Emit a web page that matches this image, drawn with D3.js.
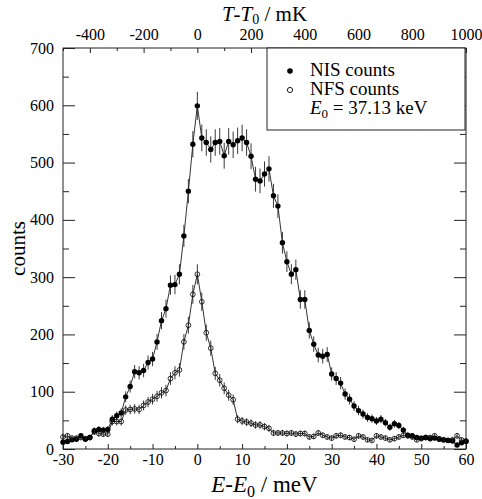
<!DOCTYPE html>
<html>
<head>
<meta charset="utf-8">
<script src="https://cdn.jsdelivr.net/npm/d3@7"></script>
<style>
  body { margin: 0; background: #fff; }
  svg text { font-family: "Liberation Serif", "Times New Roman", serif; fill: #000; }
</style>
</head>
<body>
<div id="chart"></div>
<script>
// energy offset E-E0 in meV (one channel per meV)
var energy = [-30,-29,-28,-27,-26,-25,-24,-23,-22,-21,-20,-19,-18,-17,-16,-15,-14,-13,-12,-11,
  -10,-9,-8,-7,-6,-5,-4,-3,-2,-1,0,1,2,3,4,5,6,7,8,9,10,11,12,13,14,15,16,17,18,19,
  20,21,22,23,24,25,26,27,28,29,30,31,32,33,34,35,36,37,38,39,40,41,42,43,44,45,46,47,48,49,
  50,51,52,53,54,55,56,57,58,59,60];

var nisCounts = [12,13,16,17,23,17,20,32,34,33,34,52,58,63,91,109,135,133,137,151,
  157,187,224,245,286,287,305,372,450,532,599,543,535,523,535,537,512,537,531,538,
  543,535,511,471,468,480,489,442,424,360,327,305,313,261,261,207,183,164,162,165,
  131,123,115,96,87,75,67,61,55,53,49,52,46,38,44,41,33,24,23,20,
  19,20,18,19,17,16,15,14,7,11,13];

var nfsCounts = [21,23,19,19,20,18,20,30,27,26,26,48,48,48,68,69,70,69,76,82,
  87,92,98,102,123,133,138,187,216,270,305,257,203,176,132,120,106,94,86,52,
  49,47,45,42,42,39,36,28,28,28,27,28,26,27,27,21,22,28,24,21,
  19,23,24,21,20,17,23,21,16,15,23,21,19,16,18,21,24,23,21,16,
  18,20,20,23,18,16,15,16,23,16,14];

var bottomMajor = [-30,-20,-10,0,10,20,30,40,50,60];
var bottomMinor = [-25,-15,-5,5,15,25,35,45,55];
var topMajor = [-400,-200,0,200,400,600,800,1000];
var topMinor = [-500,-300,-100,100,300,500,700,900];
var leftMajor = [0,100,200,300,400,500,600,700];
var leftMinor = [50,150,250,350,450,550,650];

var width = 482, height = 499;
var pLeft = 63, pRight = 466, pTop = 48, pBottom = 449;
var serif = "'Liberation Serif', 'Times New Roman', serif";

var svg = d3.select("#chart").append("svg")
    .attr("width", width)
    .attr("height", height);

var x = d3.scaleLinear().domain([-30, 60]).range([pLeft, pRight]);
// T-T0 axis: 0 mK at E0, 1000 mK at 60 meV
var xT = d3.scaleLinear().domain([-500, 1000]).range([pLeft, pRight]);
var y = d3.scaleLinear().domain([0, 700]).range([pBottom, pTop]);

function minusFmt(d) { return d < 0 ? "-" + Math.abs(d) : d; }

function styleAxis(g) {
    g.attr("font-family", serif).attr("font-size", 16);
    g.select(".domain").remove();
    g.selectAll(".tick line").attr("stroke", "#222").attr("stroke-width", 1);
    g.selectAll(".tick text")
        .style("font-family", serif)
        .style("font-size", "16px");
}

// bottom axis
svg.append("g").attr("transform", "translate(0," + pBottom + ")")
    .call(d3.axisBottom(x).tickValues(bottomMajor).tickSize(-5).tickPadding(4.5).tickFormat(minusFmt))
    .call(styleAxis);
svg.append("g").attr("transform", "translate(0," + pBottom + ")")
    .call(d3.axisBottom(x).tickValues(bottomMinor).tickSize(-3).tickFormat(""))
    .call(styleAxis);

// top axis
svg.append("g").attr("transform", "translate(0," + pTop + ")")
    .call(d3.axisTop(xT).tickValues(topMajor).tickSize(-5).tickPadding(8.5).tickFormat(minusFmt))
    .call(styleAxis);
svg.append("g").attr("transform", "translate(0," + pTop + ")")
    .call(d3.axisTop(xT).tickValues(topMinor).tickSize(-3).tickFormat(""))
    .call(styleAxis);

// left axis
svg.append("g").attr("transform", "translate(" + pLeft + ",0)")
    .call(d3.axisLeft(y).tickValues(leftMajor).tickSize(-12).tickPadding(9))
    .call(styleAxis);
svg.append("g").attr("transform", "translate(" + pLeft + ",0)")
    .call(d3.axisLeft(y).tickValues(leftMinor).tickSize(-6).tickFormat(""))
    .call(styleAxis);

// right axis (no labels)
svg.append("g").attr("transform", "translate(" + pRight + ",0)")
    .call(d3.axisRight(y).tickValues(leftMajor).tickSize(-12).tickFormat(""))
    .call(styleAxis);
svg.append("g").attr("transform", "translate(" + pRight + ",0)")
    .call(d3.axisRight(y).tickValues(leftMinor).tickSize(-6).tickFormat(""))
    .call(styleAxis);

// frame
svg.append("rect")
    .attr("x", pLeft).attr("y", pTop)
    .attr("width", pRight - pLeft).attr("height", pBottom - pTop)
    .attr("fill", "none").attr("stroke", "#222").attr("stroke-width", 1);

// data series
var line = d3.line()
    .x(function(d){ return x(d.e); })
    .y(function(d){ return y(d.c); });

function drawSeries(counts, filled) {
    var pts = energy.map(function(e, i){ return {e: e, c: counts[i]}; });
    var g = svg.append("g");
    g.append("path").datum(pts)
        .attr("d", line)
        .attr("fill", "none").attr("stroke", "#000").attr("stroke-width", 0.8);
    // Poisson error bars
    g.selectAll("line.err").data(pts).enter().append("line")
        .attr("class", "err")
        .attr("x1", function(d){ return x(d.e); })
        .attr("x2", function(d){ return x(d.e); })
        .attr("y1", function(d){ return y(d.c + Math.sqrt(d.c)); })
        .attr("y2", function(d){ return y(d.c - Math.sqrt(d.c)); })
        .attr("stroke", "#222").attr("stroke-width", 0.9);
    g.selectAll("circle").data(pts).enter().append("circle")
        .attr("cx", function(d){ return x(d.e); })
        .attr("cy", function(d){ return y(d.c); })
        .attr("r", filled ? 2.7 : 2.4)
        .attr("fill", filled ? "#000" : "none")
        .attr("stroke", "#000")
        .attr("stroke-width", filled ? 0 : 0.8);
}

drawSeries(nisCounts, true);
drawSeries(nfsCounts, false);

// legend
var legend = svg.append("g");
legend.append("rect")
    .attr("x", 267).attr("y", pTop).attr("width", 198).attr("height", 82)
    .attr("fill", "#fff").attr("stroke", "#222").attr("stroke-width", 1);
legend.append("circle").attr("cx", 290).attr("cy", 71).attr("r", 2.8).attr("fill", "#000");
legend.append("circle").attr("cx", 290).attr("cy", 90).attr("r", 2.6)
    .attr("fill", "none").attr("stroke", "#000").attr("stroke-width", 0.9);
legend.append("text").attr("x", 310).attr("y", 76).attr("font-size", 19).text("NIS counts");
legend.append("text").attr("x", 310).attr("y", 95).attr("font-size", 19).text("NFS counts");
var e0 = legend.append("text").attr("x", 310).attr("y", 114).attr("font-size", 19);
e0.append("tspan").attr("font-style", "italic").text("E");
e0.append("tspan").attr("font-size", 13).attr("dy", 4).text("0");
e0.append("tspan").attr("dy", -4).text(" = 37.13 keV");

// axis titles
var xTitle = svg.append("text")
    .attr("x", (pLeft + pRight) / 2).attr("y", 492)
    .attr("text-anchor", "middle").attr("font-size", 23);
xTitle.append("tspan").attr("font-style", "italic").text("E");
xTitle.append("tspan").text("-");
xTitle.append("tspan").attr("font-style", "italic").text("E");
xTitle.append("tspan").attr("font-size", 16).attr("dy", 5).text("0");
xTitle.append("tspan").attr("dy", -5).text(" / meV");

var tTitle = svg.append("text")
    .attr("x", (pLeft + pRight) / 2).attr("y", 21)
    .attr("text-anchor", "middle").attr("font-size", 21);
tTitle.append("tspan").attr("font-style", "italic").text("T");
tTitle.append("tspan").text("-");
tTitle.append("tspan").attr("font-style", "italic").text("T");
tTitle.append("tspan").attr("font-size", 14).attr("dy", 3).text("0");
tTitle.append("tspan").attr("dy", -3).text(" / mK");

svg.append("text")
    .attr("transform", "translate(25," + ((pTop + pBottom) / 2) + ") rotate(-90)")
    .attr("text-anchor", "middle").attr("font-size", 21)
    .text("counts");
</script>
</body>
</html>
